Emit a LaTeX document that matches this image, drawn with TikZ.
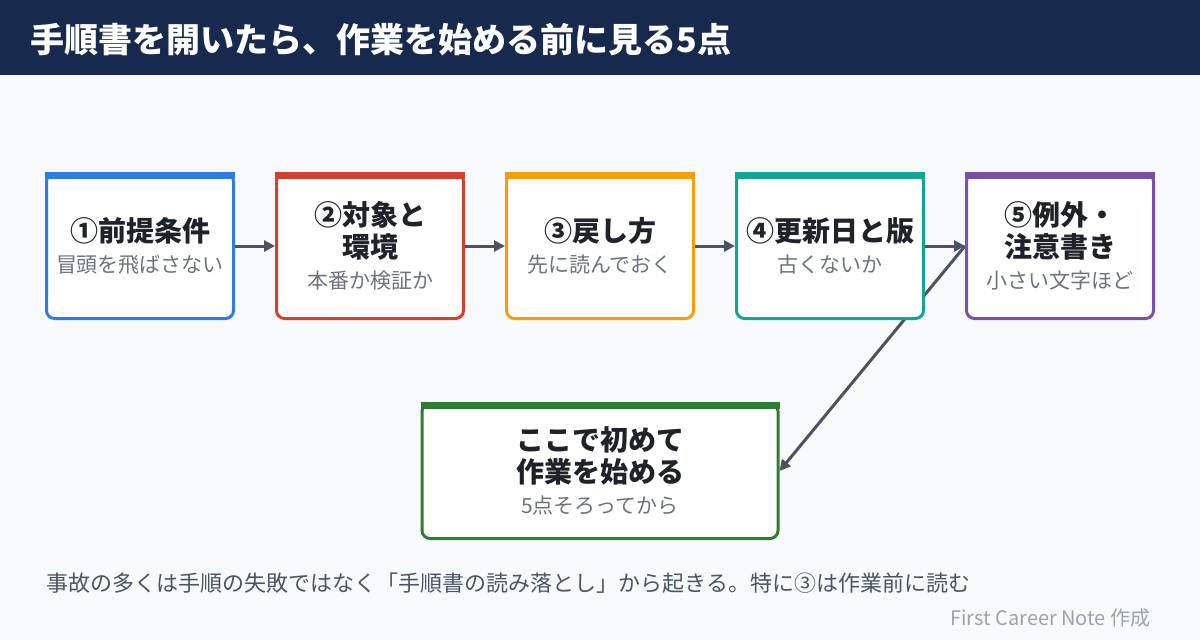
\documentclass[tikz,border=0pt]{standalone}
\usepackage{fontspec}
\setmainfont{Noto Sans CJK JP}
\usetikzlibrary{arrows.meta,positioning}

\definecolor{navy}{HTML}{172A4E}
\definecolor{paper}{HTML}{F7F9FB}
\definecolor{ink}{HTML}{1F2329}
\definecolor{subgray}{HTML}{6B7280}
\definecolor{notegray}{HTML}{4B5563}
\definecolor{creditgray}{HTML}{9CA3AF}
\definecolor{arrowgray}{HTML}{4A5263}
\definecolor{cblue}{HTML}{2F7DE1}
\definecolor{cred}{HTML}{D2402F}
\definecolor{corange}{HTML}{F59E0B}
\definecolor{cteal}{HTML}{12A594}
\definecolor{cpurple}{HTML}{7B52A3}
\definecolor{cgreen}{HTML}{2E7D32}

\newcommand{\subline}[1]{{\fontsize{21}{25}\selectfont\mdseries\color{subgray}#1}}

\pgfdeclarelayer{bg}
\pgfdeclarelayer{edges}
\pgfsetlayers{bg,edges,main}

\begin{document}
\begin{tikzpicture}[x=1pt, y=-1pt, >=Triangle,
  card/.style={draw=#1, fill=white, line width=3pt, rounded corners=8pt,
    minimum width=187pt, minimum height=145pt, align=center, text=ink,
    font=\fontsize{28}{32}\selectfont\bfseries},
  flow/.style={->, line width=3pt, draw=arrowgray,
    arrows={-Triangle[length=11pt,width=11pt]}}]

  % page and title bar
  \begin{pgfonlayer}{bg}
    \fill[paper] (0,0) rectangle (1200,640);
    \fill[navy] (0,0) rectangle (1200,75);
  \end{pgfonlayer}
  \useasboundingbox (0,0) rectangle (1200,640);
  \node[anchor=west, text=white, font=\fontsize{34}{38}\selectfont\bfseries]
    (title) at (27,40) {手順書を開いたら、作業を始める前に見る5点};

  % the five checks
  \node[card=cblue] (b1) at (140,246) {①前提条件\\[-1pt]\subline{冒頭を飛ばさない}};
  \node[card=cred, right=40pt of b1] (b2) {②対象と\\環境\\[-1pt]\subline{本番か検証か}};
  \node[card=corange, right=40pt of b2] (b3) {③戻し方\\[-1pt]\subline{先に読んでおく}};
  \node[card=cteal, right=40pt of b3] (b4) {④更新日と版\\[-1pt]\subline{古くないか}};
  \node[card=cpurple, right=40pt of b4] (b5) {⑤例外・\\注意書き\\[-1pt]\subline{小さい文字ほど}};

  % goal
  \node[card=cgreen, minimum width=356pt, minimum height=135pt, below=82pt of b3]
    (goal) {ここで初めて\\作業を始める\\[-1pt]\subline{5点そろってから}};

  % top bars
  \foreach \n/\c in {b1/cblue, b2/cred, b3/corange, b4/cteal, b5/cpurple, goal/cgreen}
    \fill[\c] (\n.north west) rectangle ([yshift=-7pt]\n.north east);

  % connectors
  \draw[flow] (b1) -- (b2);
  \draw[flow] (b2) -- (b3);
  \draw[flow] (b3) -- (b4);
  \draw[flow] (b4) -- (b5);
  \begin{pgfonlayer}{edges}
    \draw[flow] (b5.west) -- (goal.east);
  \end{pgfonlayer}

  % footer
  \node[anchor=west, text=notegray, font=\fontsize{22}{26}\selectfont]
    (note) at (43,583) {事故の多くは手順の失敗ではなく「手順書の読み落とし」から起きる。特に③は作業前に読む};
  \node[anchor=east, text=creditgray, font=\fontsize{20}{24}\selectfont]
    (credit) at (1154,618) {First Career Note 作成};
\end{tikzpicture}
\end{document}
